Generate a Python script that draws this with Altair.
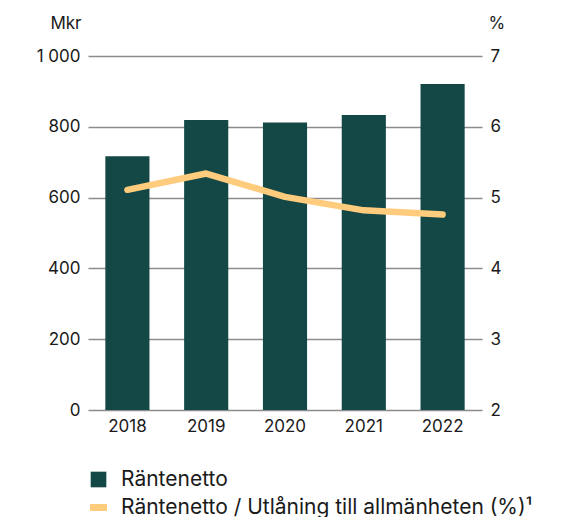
import altair as alt
import pandas as pd

years = ["2018", "2019", "2020", "2021", "2022"]
rantenetto = [717, 819, 812, 833, 921]
ratio_pct = [5.11, 5.34, 5.01, 4.82, 4.76]

bar_label = "Räntenetto"
line_label = "Räntenetto / Utlåning till allmänheten (%)¹"

TEAL = "#134846"
ORANGE = "#FFCB7C"
TEXT = "#1a1a1a"
GRID = "#8c8c8c"
FONT = "Inter"

df = pd.DataFrame({
    "year": years,
    "value": rantenetto,
    "pct": ratio_pct,
    "s1": [bar_label] * len(years),
    "s2": [line_label] * len(years),
})

base = alt.Chart(df).encode(
    x=alt.X("year:N", title=None,
            scale=alt.Scale(paddingInner=0.44, paddingOuter=0.22),
            axis=alt.Axis(labelAngle=0, labelFontSize=17, labelColor=TEXT,
                          labelFont=FONT, labelPadding=8, ticks=False,
                          domain=False, domainOpacity=0, grid=False))
)

bars = base.mark_bar(color=TEAL).encode(
    y=alt.Y("value:Q", title="Mkr",
            scale=alt.Scale(domain=[0, 1000], nice=False, zero=True),
            axis=alt.Axis(values=[0, 200, 400, 600, 800, 1000],
                          labelExpr="replace(format(datum.value, ','), ',', ' ')",
                          labelFontSize=17, labelColor=TEXT, labelFont=FONT,
                          labelPadding=8, ticks=False, domain=False,
                          domainOpacity=0, domainColor="transparent",
                          grid=True, gridColor=GRID, gridWidth=1.5,
                          titleAngle=0, titleAlign="right", titleBaseline="alphabetic",
                          titleX=-7, titleY=-28, titleFontSize=17,
                          titleFontWeight="normal", titleColor=TEXT, titleFont=FONT)),
    fill=alt.Fill("s1:N", title=None,
                  scale=alt.Scale(domain=[bar_label], range=[TEAL]),
                  legend=alt.Legend(orient="none", legendX=0, legendY=413,
                                    symbolType="square", symbolSize=245,
                                    symbolStrokeWidth=0,
                                    labelFontSize=21, labelColor=TEXT,
                                    labelFont=FONT, labelOffset=12,
                                    labelLimit=0)),
)

line = base.mark_line(strokeWidth=6.5, strokeCap="round",
                      strokeJoin="round", interpolate="linear").encode(
    y=alt.Y("pct:Q", title="%",
            scale=alt.Scale(domain=[2, 7], nice=False, zero=False),
            axis=alt.Axis(orient="right", values=[2, 3, 4, 5, 6, 7],
                          labelFontSize=17, labelColor=TEXT, labelFont=FONT,
                          labelPadding=8, ticks=False, domain=False,
                          domainOpacity=0, domainColor="transparent", grid=False,
                          titleAngle=0, titleAlign="left", titleBaseline="alphabetic",
                          titleX=6, titleY=-28, titleFontSize=17,
                          titleFontWeight="normal", titleColor=TEXT, titleFont=FONT)),
    stroke=alt.Stroke("s2:N", title=None,
                      scale=alt.Scale(domain=[line_label], range=[ORANGE]),
                      legend=alt.Legend(orient="none", legendX=0, legendY=441,
                                        symbolType="M-1,-0.41H1V0.41H-1Z",
                                        symbolSize=289,
                                        symbolFillColor=ORANGE,
                                        symbolStrokeWidth=0,
                                        labelFontSize=21, labelColor=TEXT,
                                        labelFont=FONT, labelOffset=12,
                                        labelLimit=0)),
)

chart = alt.layer(bars, line).resolve_scale(
    y="independent", fill="independent", stroke="independent"
).properties(
    width=394, height=354,
    background="white",
    autosize=alt.AutoSizeParams(type="none"),
    padding={"left": 88, "top": 56, "right": 84, "bottom": 107},
).configure_view(
    stroke="transparent", strokeWidth=0, strokeOpacity=0
).configure_axis(domain=False, domainOpacity=0)

chart.save("out.html", embed_options={"renderer": "svg", "actions": False})
